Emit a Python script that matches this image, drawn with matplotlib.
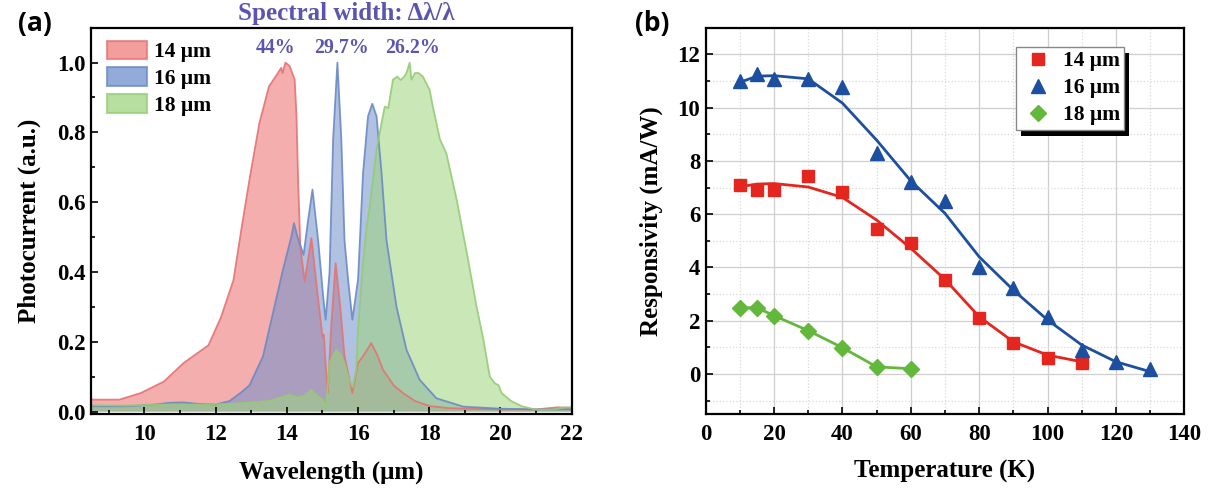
import matplotlib
matplotlib.use("Agg")
import matplotlib.pyplot as plt
from matplotlib.patches import Patch, Rectangle
from matplotlib.ticker import MultipleLocator

# ---------------- data: panel (a) spectra ----------------
wl_14 = [8.5, 9.3, 9.9, 10.55, 11.1, 11.8, 12.15, 12.5, 12.72, 12.95, 13.23, 13.5, 13.75, 13.84,
         13.88, 13.96, 14.08, 14.22, 14.27, 14.32, 14.38, 14.5, 14.69, 14.87, 15.0, 15.04, 15.08,
         15.15, 15.25, 15.37, 15.5, 15.62, 15.84, 16.0, 16.15, 16.37, 16.55, 16.7, 17.0, 17.26,
         17.6, 18.0, 18.5, 19.0, 20.0, 21.0, 21.6, 22.0]
pc_14 = [0.034, 0.034, 0.053, 0.086, 0.139, 0.19, 0.27, 0.376, 0.52, 0.664, 0.827, 0.932, 0.97, 0.985,
         0.97, 1.0, 0.99, 0.951, 0.85, 0.65, 0.47, 0.373, 0.497, 0.33, 0.215, 0.22, 0.15,
         0.053, 0.25, 0.425, 0.3, 0.158, 0.053, 0.139, 0.16, 0.196, 0.16, 0.12, 0.075, 0.053,
         0.03, 0.016, 0.01, 0.008, 0.006, 0.006, 0.012, 0.01]

wl_16 = [8.5, 9.5, 10.3, 10.7, 11.1, 11.5, 12.0, 12.39, 12.72, 12.95, 13.33, 13.61, 13.89, 14.13,
         14.2, 14.3, 14.47, 14.6, 14.72, 14.88, 15.02, 15.09, 15.2, 15.3, 15.42, 15.53, 15.62,
         15.72, 15.84, 16.0, 16.14, 16.28, 16.4, 16.52, 16.66, 16.8, 17.08, 17.36, 17.73, 18.2,
         18.95, 20.0, 21.0, 22.0]
pc_16 = [0.015, 0.015, 0.02, 0.025, 0.026, 0.022, 0.02, 0.03, 0.055, 0.075, 0.158, 0.282, 0.406, 0.502,
         0.54, 0.5, 0.449, 0.55, 0.636, 0.49, 0.33, 0.263, 0.4, 0.78, 1.0, 0.78, 0.49,
         0.378, 0.263, 0.378, 0.683, 0.846, 0.882, 0.846, 0.683, 0.49, 0.30, 0.177, 0.091, 0.038,
         0.014, 0.008, 0.006, 0.006]

wl_18 = [8.5, 9.5, 10.5, 11.5, 12.5, 13.5, 14.08, 14.3, 14.5, 14.69, 14.85, 15.0, 15.1, 15.2,
         15.39, 15.5, 15.62, 15.75, 15.85, 15.95, 16.0, 16.14, 16.23, 16.33, 16.52, 16.66, 16.75,
         16.85, 16.98, 17.1, 17.2, 17.3, 17.36, 17.45, 17.5, 17.6, 17.7, 17.82, 18.01, 18.1, 18.3,
         18.48, 18.77, 19.09, 19.33, 19.52, 19.7, 19.84, 19.95, 20.03, 20.3, 20.6, 21.0, 21.5,
         21.8, 22.0]
pc_18 = [0.018, 0.017, 0.02, 0.02, 0.022, 0.03, 0.048, 0.04, 0.045, 0.062, 0.045, 0.035, 0.015, 0.14,
         0.177, 0.165, 0.139, 0.09, 0.07, 0.12, 0.234, 0.425, 0.52, 0.588, 0.75, 0.827, 0.874,
         0.87, 0.951, 0.96, 0.95, 0.96, 0.97, 1.0, 0.951, 0.97, 0.97, 0.96, 0.922, 0.874, 0.78,
         0.74, 0.607, 0.435, 0.30, 0.206, 0.1, 0.081, 0.075, 0.053, 0.03, 0.015, 0.005, 0.006,
         0.012, 0.012]

spec_labels = ["14 \u03bcm", "16 \u03bcm", "18 \u03bcm"]
width_labels = ["44%", "29.7%", "26.2%"]
width_pos = [13.68, 15.54, 17.54]

# ---------------- data: panel (b) responsivity ----------------
T_14 = [10, 15, 20, 30, 40, 50, 60, 70, 80, 90, 100, 110]
R_14 = [7.1, 6.9, 6.9, 7.45, 6.85, 5.45, 4.9, 3.53, 2.09, 1.15, 0.59, 0.43]
F_14 = [7.03, 7.13, 7.15, 7.02, 6.63, 5.78, 4.72, 3.55, 2.15, 1.21, 0.71, 0.46]

T_16 = [10, 15, 20, 30, 40, 50, 60, 70, 80, 90, 100, 110, 120, 130]
R_16 = [10.99, 11.26, 11.06, 11.06, 10.76, 8.28, 7.2, 6.5, 4.0, 3.22, 2.15, 0.9, 0.44, 0.18]
F_16 = [10.95, 11.18, 11.2, 11.08, 10.17, 8.78, 7.25, 6.03, 4.4, 3.15, 2.03, 1.09, 0.46, 0.09]

T_18 = [10, 15, 20, 30, 40, 50, 60]
R_18 = [2.49, 2.49, 2.19, 1.63, 0.99, 0.27, 0.2]

resp_labels = ["14 \u03bcm", "16 \u03bcm", "18 \u03bcm"]

# ---------------- style ----------------
SERIF = ["Liberation Serif", "DejaVu Serif"]
plt.rcParams["font.family"] = SERIF
plt.rcParams["font.weight"] = "bold"
plt.rcParams["mathtext.default"] = "regular"

fig = plt.figure(figsize=(12.11, 4.93), dpi=100)
W, H = 1211, 493
axA = fig.add_axes([91 / W, (H - 414.3) / H, (571.7 - 91) / W, (414.3 - 27.7) / H])
axB = fig.add_axes([705.7 / W, (H - 414) / H, (1184.3 - 705.7) / W, (414 - 27.7) / H])

TICK_FS = 16.5
LAB_FS = 18
LEG_FS = 15.5

# ---------------- panel (a) ----------------
fill_cols = ["#F07C7C", "#6F8FCB", "#9FD57F"]
edge_cols = ["#E57373", "#6A8AC5", "#94CC74"]
alphas = [0.62, 0.55, 0.55]
for wl, pc, fc, ec, a in zip([wl_14, wl_16, wl_18], [pc_14, pc_16, pc_18], fill_cols, edge_cols, alphas):
    axA.fill_between(wl, 0, pc, facecolor=fc, alpha=a, linewidth=0)
    axA.plot(wl, pc, color=ec, lw=1.3, alpha=0.9)

axA.set_xlim(8.5, 22)
axA.set_ylim(-0.008, 1.1)
axA.xaxis.set_minor_locator(MultipleLocator(1))
axA.yaxis.set_minor_locator(MultipleLocator(0.1))
axA.set_yticks([0, 0.2, 0.4, 0.6, 0.8, 1.0])
axA.set_xticks([10, 12, 14, 16, 18, 20, 22])
axA.tick_params(which="both", direction="in", top=False, right=False, labelsize=TICK_FS, width=1.2)
axA.tick_params(which="major", length=5)
axA.tick_params(which="minor", length=3)
axA.tick_params(axis="x", pad=7)
axA.tick_params(axis="y", pad=4)
for s in axA.spines.values():
    s.set_linewidth(1.6)
axA.set_xlabel("Wavelength (\u03bcm)", fontsize=LAB_FS, fontweight="bold")
axA.set_ylabel("Photocurrent (a.u.)", fontsize=LAB_FS, fontweight="bold")
axA.xaxis.set_label_coords(0.5, -0.12)
axA.yaxis.set_label_coords(-0.105, 0.5)

handlesA = [Patch(facecolor=fc, edgecolor=ec, alpha=0.75, linewidth=1.5)
            for fc, ec in zip(fill_cols, edge_cols)]
legA = axA.legend(handlesA, spec_labels, loc="upper left", bbox_to_anchor=(0.006, 1.0),
                  frameon=False, fontsize=LEG_FS, handlelength=1.85, handleheight=0.95,
                  labelspacing=0.24, handletextpad=0.35, borderaxespad=0.2)

purple = "#5B55B0"
axA.text(15.67, 1.142, "Spectral width: \u0394\u03bb/\u03bb", ha="center", va="center",
         fontsize=18, fontweight="bold", color=purple)
for lab, xp in zip(width_labels, width_pos):
    axA.text(xp, 1.043, lab, ha="center", va="center", fontsize=14.3, fontweight="bold", color=purple)

fig.text(35 / W, 1 - 24 / H, "(a)", fontsize=19, fontweight="bold", family=["Open Sans", "DejaVu Sans"],
         ha="center", va="center")

# ---------------- panel (b) ----------------
axB.grid(True, which="major", color="#cfcfcf", lw=0.9, ls="-")
axB.grid(True, which="minor", color="#d9d9d9", lw=0.9, ls=":")
axB.set_axisbelow(True)

red, blue, green = "#E5261F", "#1D4FA0", "#62B83A"
axB.plot(T_14, F_14, color=red, lw=2.0, zorder=3)
axB.plot(T_16, F_16, color=blue, lw=2.0, zorder=3)
axB.plot(T_18, R_18, color=green, lw=2.0, zorder=3)
axB.plot(T_14, R_14, ls="none", marker="s", ms=9, color=red, label=resp_labels[0], zorder=4)
axB.plot(T_16, R_16, ls="none", marker="^", ms=10, color=blue, label=resp_labels[1], zorder=4)
axB.plot(T_18, R_18, ls="none", marker="D", ms=8, color=green, label=resp_labels[2], zorder=4)

axB.set_xlim(0, 140)
axB.set_ylim(-1.5, 13)
axB.xaxis.set_major_locator(MultipleLocator(20))
axB.xaxis.set_minor_locator(MultipleLocator(10))
axB.yaxis.set_minor_locator(MultipleLocator(1))
axB.set_yticks([0, 2, 4, 6, 8, 10, 12])
axB.tick_params(which="both", direction="in", top=False, right=False, labelsize=TICK_FS, width=1.2)
axB.tick_params(which="major", length=5)
axB.tick_params(which="minor", length=3)
axB.tick_params(axis="x", pad=7)
axB.tick_params(axis="y", pad=4)
for s in axB.spines.values():
    s.set_linewidth(1.6)
axB.set_xlabel("Temperature (K)", fontsize=LAB_FS, fontweight="bold")
axB.set_ylabel("Responsivity (mA/W)", fontsize=LAB_FS, fontweight="bold")
axB.xaxis.set_label_coords(0.5, -0.12)
axB.yaxis.set_label_coords(-0.089, 0.5)

legB = axB.legend(loc="upper right", bbox_to_anchor=(0.874, 0.95), fontsize=LEG_FS, fancybox=False,
                  framealpha=1, edgecolor="#888888", borderpad=0.2, labelspacing=0.32,
                  handletextpad=0.27, handlelength=1.7, borderaxespad=0)
legB.get_frame().set_linewidth(1.0)
legB.set_zorder(10)

fig.text(651.7 / W, 1 - 24 / H, "(b)", fontsize=19, fontweight="bold", family=["Open Sans", "DejaVu Sans"],
         ha="center", va="center")

# black offset shadow behind legend (b)
fig.canvas.draw()
bb = legB.get_frame().get_window_extent()
shadow = Rectangle((bb.x0 + 5, bb.y0 - 6), bb.width, bb.height, transform=None,
                   facecolor="black", edgecolor="none", zorder=9, clip_on=False)
axB.add_artist(shadow)

fig.savefig("out.png", dpi=100)
